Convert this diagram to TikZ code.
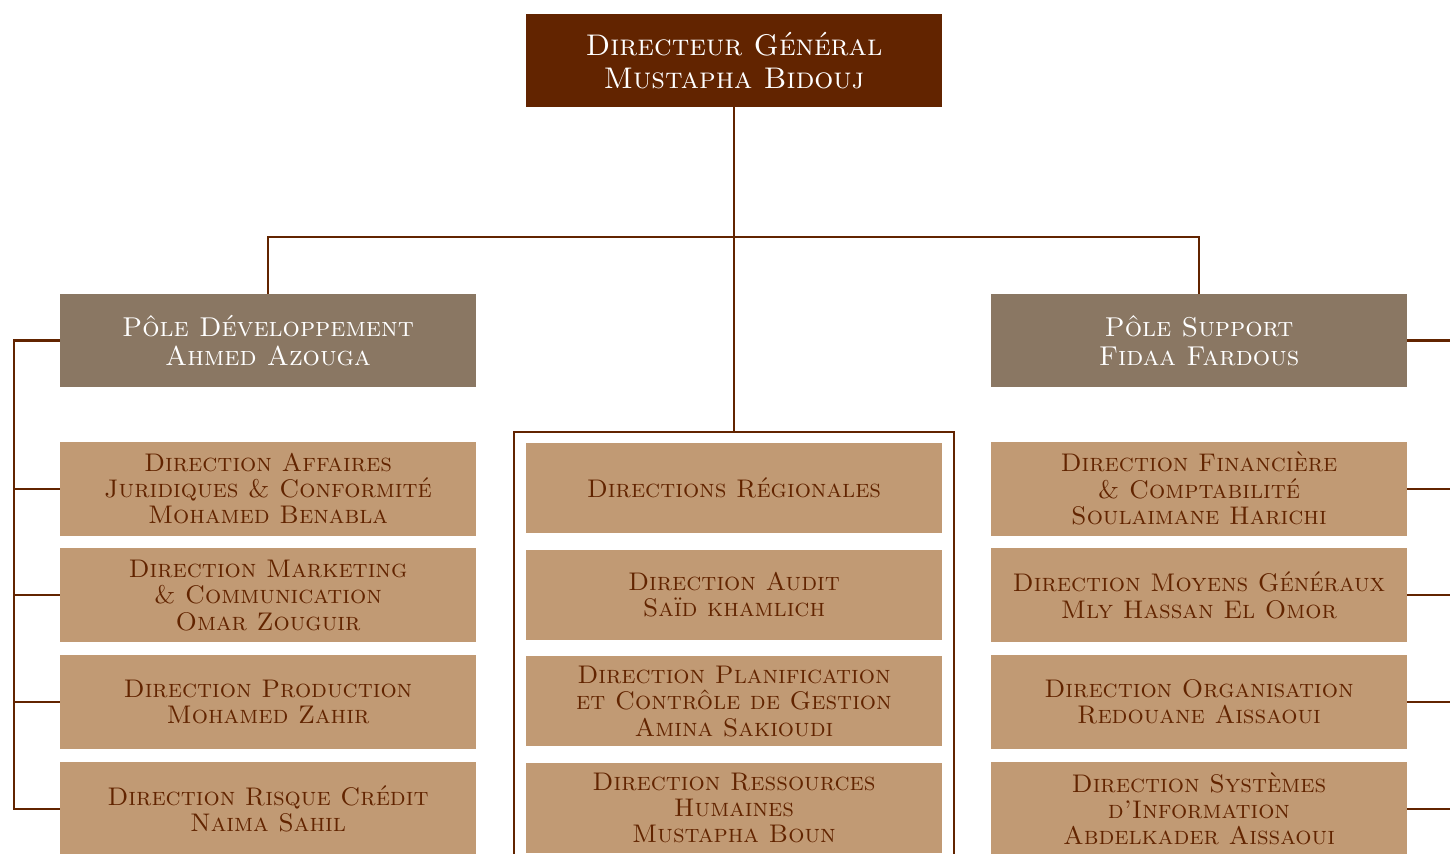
\documentclass[tikz,border=0pt]{standalone}
\usepackage{fontspec}
\usetikzlibrary{positioning}

\definecolor{dgbrown}{RGB}{98,36,0}
\definecolor{polegray}{RGB}{138,119,99}
\definecolor{dirtan}{RGB}{193,154,116}

\begin{document}
\begin{tikzpicture}[
  x=0.02cm, y=-0.02cm,
  node distance=0.24cm,
  link/.style={draw=dgbrown,line width=1.2pt},
  dgbox/.style={fill=dgbrown,text=white,inner sep=0pt,align=center,
    minimum width=8.32cm,minimum height=1.86cm,
    font=\fontsize{17}{18.5}\selectfont\scshape},
  polebox/.style={dgbox,fill=polegray,
    font=\fontsize{15.5}{16.5}\selectfont\scshape},
  dirbox/.style={fill=dirtan,text=dgbrown,inner sep=0pt,align=center,
    minimum width=8.32cm,minimum height=1.88cm,
    font=\fontsize{14.5}{15}\selectfont\scshape},
  cbox/.style={dirbox,minimum height=1.8cm}
]
\useasboundingbox (0,0) rectangle (1450,854);

\node[dgbox] (dg) at (734,60.5) {Directeur Général\\Mustapha Bidouj};
\node[polebox] (pd) at (268,340.5) {Pôle Développement\\Ahmed Azouga};
\node[polebox] (ps) at (1199,340.5) {Pôle Support\\Fidaa Fardous};

% pole developpement
\node[dirbox,below=1.08cm of pd] (ld1) {Direction Affaires\\Juridiques \& Conformité\\Mohamed Benabla};
\node[dirbox,below=of ld1] (ld2) {Direction Marketing\\\& Communication\\Omar Zouguir};
\node[dirbox,below=of ld2] (ld3) {Direction Production\\Mohamed Zahir};
\node[dirbox,below=of ld3] (ld4) {Direction Risque Crédit\\Naima Sahil};

% directions rattachees
\node[cbox] (cd1) at (734,488) {Directions Régionales};
\node[cbox,below=0.32cm of cd1] (cd2) {Direction Audit\\Saïd khamlich};
\node[cbox,below=0.32cm of cd2] (cd3) {Direction Planification\\et Contrôle de Gestion\\Amina Sakioudi};
\node[cbox,below=0.32cm of cd3] (cd4) {Direction Ressources\\Humaines\\Mustapha Boun};

% pole support
\node[dirbox,below=1.08cm of ps] (rd1) {Direction Financière\\\& Comptabilité\\Soulaimane Harichi};
\node[dirbox,below=of rd1] (rd2) {Direction Moyens Généraux\\Mly Hassan El Omor};
\node[dirbox,below=of rd2] (rd3) {Direction Organisation\\Redouane Aissaoui};
\node[dirbox,below=of rd3] (rd4) {Direction Systèmes\\d'Information\\Abdelkader Aissaoui};

\coordinate (bar) at (734,237);
\coordinate (ctop) at (734,432);
\coordinate (lbus) at (14,0);
\coordinate (rbus) at (1452,0);
\coordinate (cl) at (514,860);
\coordinate (cr) at (954,860);

% top level
\draw[link] (dg.south) -- (ctop);
\draw[link] (pd.north) |- (bar) -| (ps.north);
\draw[link] (cl) |- (ctop) -| (cr);

% left bus
\draw[link] (pd.west) -- (pd.west -| lbus) |- (ld4.west);
\foreach \i in {1,2,3}
  \draw[link] (ld\i.west) -- (ld\i.west -| lbus);

% right stubs
\draw[link] (ps.east) -- (ps.east -| rbus);
\foreach \i in {1,2,3,4}
  \draw[link] (rd\i.east) -- (rd\i.east -| rbus);

\end{tikzpicture}
\end{document}
